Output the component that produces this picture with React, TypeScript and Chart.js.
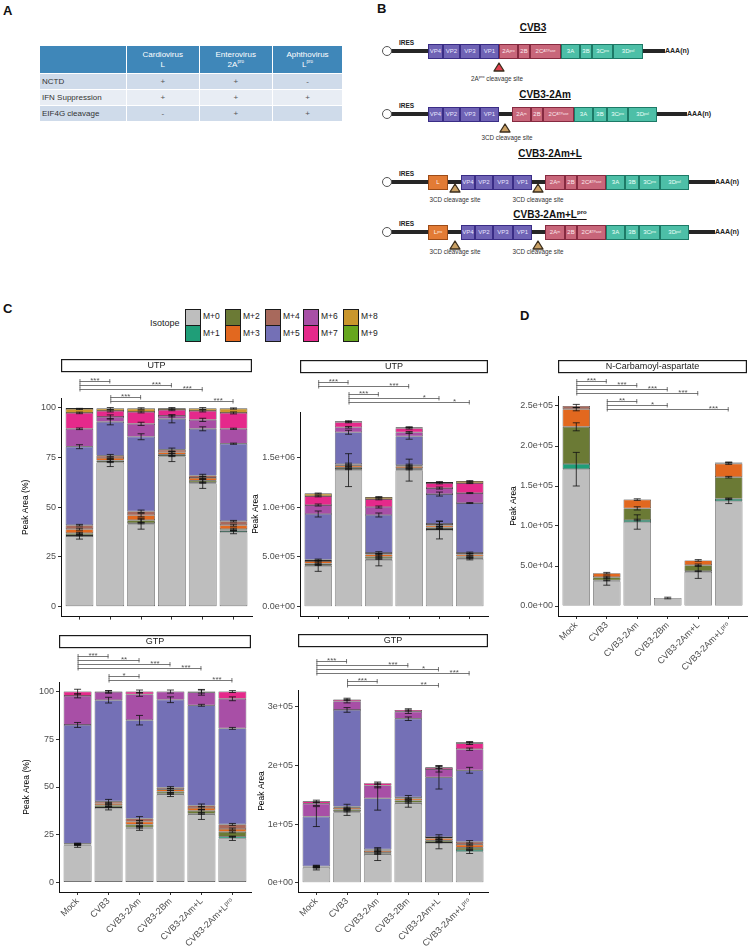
import React, { useEffect, useRef } from "react";
import { Chart, registerables } from "chart.js";

Chart.register(...registerables);

const SANS = "'Liberation Sans', Arial, Helvetica, sans-serif";

// ---------------- data ----------------
const categories = ["Mock", "CVB3", "CVB3-2Am", "CVB3-2Bm", "CVB3-2Am+L", "CVB3-2Am+Lᵖʳᵒ"];
const isotopes = ["M+0", "M+1", "M+2", "M+3", "M+4", "M+5", "M+6", "M+7", "M+8", "M+9"];
const isotopeColors = ["#bebebe", "#1f9e78", "#6b7a35", "#e2681f", "#a8695c", "#7470b6", "#a84fa6", "#e5298b", "#c9962c", "#66a61e"];

// UTP, percent of peak area (rows = M+0..M+9, columns = categories)
const utpPct = [
  [35.5, 72.5, 41.5, 75.5, 62, 37.5],
  [0.5, 0.3, 0.5, 0.3, 0.4, 0.8],
  [1.0, 0.7, 1.5, 0.7, 1.0, 0.7],
  [2.0, 1.3, 2.5, 1.2, 1.4, 2.0],
  [2.0, 1.2, 2.0, 1.3, 1.2, 2.0],
  [39.5, 17, 37.5, 15.5, 23.5, 39],
  [9, 2.5, 6.5, 1.5, 4.5, 7.5],
  [8, 3, 6, 3, 4.5, 8],
  [2, 1.2, 1.7, 0.8, 1.2, 2.2],
  [0.5, 0.3, 0.3, 0.2, 0.3, 0.3],
];
const utpPctErr = [
  [1.5, 2, 2.5, 2.5, 2.5, 0.8],
  [0.3, 0.3, 0.3, 0.3, 0.3, 0.3],
  [0.5, 0.5, 1, 0.5, 0.8, 0.5],
  [0.5, 0.5, 0.8, 0.5, 0.8, 0.5],
  [0.4, 0.6, 0.6, 0.8, 0.6, 0.4],
  [1, 1.5, 1.5, 2, 1, 0.3],
  [0.4, 1, 0.8, 0.5, 0.8, 0.3],
  [0.4, 0.5, 0.5, 0.4, 0.5, 0.5],
  [0.3, 0.5, 0.4, 0.4, 0.5, 0.3],
  [0, 0, 0, 0, 0, 0],
];

// UTP, peak area
const utpArea = [
  [410000, 1370000, 470000, 1370000, 770000, 480000],
  [8000, 10000, 10000, 8000, 10000, 10000],
  [15000, 15000, 20000, 12000, 15000, 15000],
  [25000, 20000, 25000, 20000, 20000, 20000],
  [12000, 15000, 15000, 10000, 15000, 15000],
  [460000, 320000, 380000, 290000, 300000, 500000],
  [90000, 50000, 80000, 40000, 60000, 100000],
  [90000, 50000, 80000, 40000, 50000, 100000],
  [25000, 10000, 20000, 10000, 10000, 20000],
  [5000, 0, 0, 0, 0, 0],
];
const utpAreaErr = [
  [55000, 165000, 60000, 110000, 90000, 10000],
  [5000, 5000, 5000, 5000, 5000, 5000],
  [5000, 5000, 5000, 5000, 5000, 5000],
  [8000, 8000, 8000, 8000, 8000, 8000],
  [8000, 10000, 12000, 10000, 25000, 8000],
  [30000, 20000, 20000, 30000, 20000, 5000],
  [10000, 8000, 10000, 8000, 10000, 5000],
  [8000, 5000, 8000, 8000, 8000, 5000],
  [5000, 5000, 5000, 5000, 5000, 5000],
  [0, 0, 0, 0, 0, 0],
];

// GTP, percent of peak area
const gtpPct = [
  [19.4, 39, 28.3, 46, 35.5, 23],
  [0.2, 0.5, 0.5, 0.4, 0.5, 1],
  [0.2, 1, 1.5, 1.2, 1.5, 2.5],
  [0.2, 1, 1.5, 1.2, 1.5, 1.5],
  [0.3, 1, 1.7, 0.9, 1.3, 2.4],
  [62.2, 53, 51.5, 46, 52.5, 50.3],
  [15.2, 4.3, 13.5, 4.3, 6.8, 15.5],
  [2.3, 0.2, 1.5, 0, 0.4, 3.8],
  [0, 0, 0, 0, 0, 0],
  [0, 0, 0, 0, 0, 0],
];
const gtpPctErr = [
  [1, 1, 1, 1, 2.5, 1],
  [0.2, 0.3, 0.3, 0.3, 0.3, 0.3],
  [0.2, 0.5, 0.5, 0.5, 0.8, 0.5],
  [0.2, 0.5, 0.5, 0.5, 0.8, 0.5],
  [0.3, 1, 1, 0.5, 0.8, 0.5],
  [1.3, 1.5, 2.5, 1.5, 0.5, 0.5],
  [1, 0.7, 1, 0.8, 1.5, 1],
  [1.2, 0.4, 0.8, 0, 0.8, 0.5],
  [0, 0, 0, 0, 0, 0],
  [0, 0, 0, 0, 0, 0],
];

// GTP, peak area
const gtpArea = [
  [26000, 120000, 48000, 135000, 68000, 53000],
  [300, 2000, 1500, 2000, 1500, 3000],
  [500, 3000, 2500, 3500, 3000, 4000],
  [500, 3000, 3000, 3500, 3500, 5000],
  [700, 2000, 2000, 2000, 2000, 5000],
  [85000, 165000, 87000, 134000, 102000, 122000],
  [22000, 15000, 22000, 12000, 14000, 36000],
  [4000, 3000, 4000, 3000, 3000, 10000],
  [0, 0, 0, 0, 0, 2000],
  [0, 0, 0, 0, 0, 0],
];
const gtpAreaErr = [
  [4000, 5000, 10000, 6000, 10000, 3000],
  [1000, 1000, 1000, 1000, 1000, 1000],
  [1000, 1000, 1000, 1000, 1000, 1000],
  [1000, 1000, 1000, 1000, 1000, 1000],
  [1500, 4000, 3000, 3000, 4000, 2000],
  [17000, 4000, 20000, 3000, 20000, 5000],
  [3000, 3000, 4000, 3000, 5000, 2000],
  [2000, 2000, 2000, 2000, 2000, 2000],
  [0, 0, 0, 0, 0, 1000],
  [0, 0, 0, 0, 0, 0],
];

// N-Carbamoyl-aspartate, peak area
const ncaArea = [
  [171000, 31000, 105000, 10000, 42500, 131000],
  [6500, 1000, 2500, 0, 1000, 3000],
  [46500, 4000, 14500, 0, 7500, 27000],
  [22000, 5000, 11000, 0, 6000, 17000],
  [4000, 0, 0, 0, 0, 1500],
  [0, 0, 0, 0, 0, 0],
  [0, 0, 0, 0, 0, 0],
  [0, 0, 0, 0, 0, 0],
  [0, 0, 0, 0, 0, 0],
  [0, 0, 0, 0, 0, 0],
];
const ncaAreaErr = [
  [21000, 5000, 9000, 1000, 8000, 3000],
  [0, 500, 1000, 0, 500, 1000],
  [5000, 1500, 2000, 0, 1500, 1000],
  [2000, 1000, 1000, 0, 1000, 1000],
  [2000, 0, 0, 0, 0, 500],
  [0, 0, 0, 0, 0, 0],
  [0, 0, 0, 0, 0, 0],
  [0, 0, 0, 0, 0, 0],
  [0, 0, 0, 0, 0, 0],
  [0, 0, 0, 0, 0, 0],
];

// significance comparisons: [from category, to category, label]
const utpPctSig = [[0, 1, "***"], [0, 3, "***"], [0, 4, "***"], [1, 2, "***"], [1, 5, "***"]];
const utpAreaSig = [[0, 1, "***"], [0, 3, "***"], [1, 2, "***"], [1, 4, "*"], [1, 5, "*"]];
const ncaSig = [[0, 1, "***"], [0, 2, "***"], [0, 3, "***"], [0, 4, "***"], [1, 2, "**"], [1, 3, "*"], [1, 5, "***"]];
const gtpPctSig = [[0, 1, "***"], [0, 2, "**"], [0, 3, "***"], [0, 4, "***"], [1, 2, "*"], [1, 5, "***"]];
const gtpAreaSig = [[0, 1, "***"], [0, 3, "***"], [0, 4, "*"], [0, 5, "***"], [1, 2, "***"], [1, 4, "**"]];

// tick values / labels
const pctTicks = [0, 25, 50, 75, 100];
const pctTickLabels = ["0", "25", "50", "75", "100"];
const utpAreaTicks = [0, 500000, 1000000, 1500000];
const utpAreaTickLabels = ["0.0e+00", "5.0e+05", "1.0e+06", "1.5e+06"];
const gtpAreaTicks = [0, 100000, 200000, 300000];
const gtpAreaTickLabels = ["0e+00", "1e+05", "2e+05", "3e+05"];
const ncaTicks = [0, 50000, 100000, 150000, 200000, 250000];
const ncaTickLabels = ["0.0e+00", "5.0e+04", "1.0e+05", "1.5e+05", "2.0e+05", "2.5e+05"];

// table (panel A)
const tableHeaders = [["Cardiovirus", "L", ""], ["Enterovirus", "2A", "pro"], ["Aphthovirus", "L", "pro"]];
const tableRowLabels = ["NCTD", "IFN Suppression", "EIF4G cleavage"];
const tableValues = [["+", "+", "-"], ["+", "+", "+"], ["-", "+", "+"]];

// ---------------- panel layout ----------------
const panels: any[] = [
  {
    values: utpPct, errors: utpPctErr, sig: utpPctSig, strip: "UTP", yTitle: "Peak Area (%)",
    yMin: -5, yMax: 105, ticks: pctTicks, tickLabels: pctTickLabels, showX: false,
    box: { left: 0, top: 354, width: 262, height: 270 }, area: { left: 61, right: 252, top: 398, bottom: 618 },
    stripY: 359, bracketY: 381, titleX: 26,
  },
  {
    values: utpArea, errors: utpAreaErr, sig: utpAreaSig, strip: "UTP", yTitle: "Peak Area",
    yMin: -93000, yMax: 1953000, ticks: utpAreaTicks, tickLabels: utpAreaTickLabels, showX: false,
    box: { left: 248, top: 354, width: 250, height: 270 }, area: { left: 300, right: 488, top: 412, bottom: 616 },
    stripY: 360, bracketY: 382, titleX: 256,
  },
  {
    values: ncaArea, errors: ncaAreaErr, sig: ncaSig, strip: "N-Carbamoyl-aspartate", yTitle: "Peak Area",
    yMin: -12500, yMax: 262500, ticks: ncaTicks, tickLabels: ncaTickLabels, showX: true,
    box: { left: 505, top: 354, width: 245, height: 336 }, area: { left: 558, right: 747, top: 396, bottom: 616 },
    stripY: 360, bracketY: 381, titleX: 514,
  },
  {
    values: gtpPct, errors: gtpPctErr, sig: gtpPctSig, strip: "GTP", yTitle: "Peak Area (%)",
    yMin: -5, yMax: 105, ticks: pctTicks, tickLabels: pctTickLabels, showX: true,
    box: { left: 0, top: 630, width: 262, height: 320 }, area: { left: 59, right: 251, top: 682, bottom: 892 },
    stripY: 635, bracketY: 656, titleX: 27,
  },
  {
    values: gtpArea, errors: gtpAreaErr, sig: gtpAreaSig, strip: "GTP", yTitle: "Peak Area",
    yMin: -15700, yMax: 329000, ticks: gtpAreaTicks, tickLabels: gtpAreaTickLabels, showX: true,
    box: { left: 248, top: 630, width: 250, height: 320 }, area: { left: 298, right: 488, top: 690, bottom: 892 },
    stripY: 634, bracketY: 661, titleX: 262,
  },
];

function makeDecor(p: any) {
  const ox = p.box.left;
  const oy = p.box.top;
  return {
    id: "decor",
    afterDatasetsDraw(chart: any) {
      const ctx = chart.ctx;
      const xs = chart.scales.x;
      const ys = chart.scales.y;
      const cum = categories.map(() => 0);
      ctx.save();
      ctx.strokeStyle = "#111";
      ctx.lineWidth = 0.8;
      p.values.forEach((row: number[], k: number) => {
        row.forEach((v: number, i: number) => {
          cum[i] += v;
          const e = p.errors[k][i];
          if (!v || !e) return;
          const x = xs.getPixelForValue(i + 1);
          const yT = ys.getPixelForValue(cum[i] + e);
          const yB = ys.getPixelForValue(cum[i] - e);
          ctx.beginPath();
          ctx.moveTo(x, yT);
          ctx.lineTo(x, yB);
          ctx.moveTo(x - 3.5, yT);
          ctx.lineTo(x + 3.5, yT);
          ctx.moveTo(x - 3.5, yB);
          ctx.lineTo(x + 3.5, yB);
          ctx.stroke();
        });
      });
      ctx.restore();
    },
    afterDraw(chart: any) {
      const ctx = chart.ctx;
      const a = chart.chartArea;
      const xs = chart.scales.x;
      ctx.save();
      // facet strip
      const sy = p.stripY - oy;
      ctx.fillStyle = "#fff";
      ctx.fillRect(a.left, sy, a.right - a.left, 13);
      ctx.strokeStyle = "#1a1a1a";
      ctx.lineWidth = 1.2;
      ctx.strokeRect(a.left + 0.6, sy + 0.6, a.right - a.left - 1.2, 12);
      ctx.fillStyle = "#1a1a1a";
      ctx.font = `9px ${SANS}`;
      ctx.textAlign = "center";
      ctx.textBaseline = "middle";
      ctx.fillText(p.strip, (a.left + a.right) / 2, sy + 7);
      // significance brackets
      let y = p.bracketY - oy;
      let prev: any = null;
      p.sig.forEach((s: any[], idx: number) => {
        const [from, to, label] = s;
        if (idx > 0) y += from !== prev ? 8 : 4;
        prev = from;
        const x1 = xs.getPixelForValue(from + 1);
        const x2 = xs.getPixelForValue(to + 1);
        ctx.strokeStyle = "#555";
        ctx.lineWidth = 0.8;
        ctx.beginPath();
        ctx.moveTo(x1, y + 0.5);
        ctx.lineTo(x2, y + 0.5);
        ctx.moveTo(x1 + 0.5, y - 2);
        ctx.lineTo(x1 + 0.5, y + 2.5);
        ctx.moveTo(x2 - 0.5, y - 2);
        ctx.lineTo(x2 - 0.5, y + 2.5);
        ctx.stroke();
        ctx.fillStyle = "#555";
        ctx.font = `8px ${SANS}`;
        ctx.textAlign = "center";
        ctx.textBaseline = "alphabetic";
        ctx.fillText(label, xs.getPixelForValue(to + 0.5), y + 2);
      });
      // y-axis title
      ctx.translate(p.titleX - ox, (a.top + a.bottom) / 2);
      ctx.rotate(-Math.PI / 2);
      ctx.fillStyle = "#000";
      ctx.font = `8.5px ${SANS}`;
      ctx.textAlign = "center";
      ctx.textBaseline = "middle";
      ctx.fillText(p.yTitle, 0, 0);
      ctx.restore();
    },
  };
}

function buildConfig(p: any) {
  const { box, area } = p;
  const padTop = area.top - box.top;
  const padRight = box.left + box.width - area.right;
  const yW = area.left - box.left;
  const xH = box.top + box.height - area.bottom;
  const datasets = isotopes.map((iso, k) => ({
    label: iso,
    data: p.values[k].map((v: number, i: number) => ({ x: i + 1, y: v === 0 ? null : v })),
    backgroundColor: isotopeColors[k],
    borderColor: "#2a2a2a",
    borderWidth: 0.6,
    borderSkipped: false,
    barPercentage: 0.9,
    categoryPercentage: 1,
  }));
  const grid = { drawOnChartArea: false, drawTicks: true, tickLength: 3, color: "#333", lineWidth: 1, offset: false };
  const border = { display: true, color: "#111", width: 1 };
  const tickFont = { family: SANS, size: 9 };
  return {
    type: "bar",
    data: { datasets },
    options: {
      responsive: false,
      animation: false,
      events: [],
      layout: { padding: { top: padTop, right: padRight, bottom: 0, left: 0 } },
      plugins: { legend: { display: false }, tooltip: { enabled: false } },
      scales: {
        x: {
          type: "linear",
          stacked: true,
          min: 0.4,
          max: 6.6,
          bounds: "data",
          offset: false,
          grid,
          border,
          afterBuildTicks: (s: any) => {
            s.ticks = categories.map((_, i) => ({ value: i + 1 }));
          },
          afterFit: (s: any) => {
            s.height = xH;
          },
          ticks: {
            display: p.showX,
            autoSkip: false,
            minRotation: 45,
            maxRotation: 45,
            padding: 1,
            color: "#4d4d4d",
            font: tickFont,
            callback: (v: number) => categories[Math.round(v) - 1] ?? "",
          },
        },
        y: {
          type: "linear",
          stacked: true,
          min: p.yMin,
          max: p.yMax,
          bounds: "data",
          grid,
          border,
          afterBuildTicks: (s: any) => {
            s.ticks = p.ticks.map((v: number) => ({ value: v }));
          },
          afterFit: (s: any) => {
            s.width = yW;
          },
          ticks: {
            padding: 2,
            color: "#4d4d4d",
            font: tickFont,
            callback: (v: number) => {
              const i = p.ticks.indexOf(v);
              return i >= 0 ? p.tickLabels[i] : "";
            },
          },
        },
      },
    },
    plugins: [makeDecor(p)],
  };
}

function StackedPanel({ p }: { p: any }) {
  const ref = useRef<HTMLCanvasElement | null>(null);
  useEffect(() => {
    if (!ref.current) return;
    const chart = new Chart(ref.current, buildConfig(p) as any);
    return () => chart.destroy();
  }, [p]);
  const { box } = p;
  return (
    <canvas
      ref={ref}
      width={box.width}
      height={box.height}
      style={{ position: "absolute", left: box.left, top: box.top, width: box.width, height: box.height }}
    />
  );
}

// ---------------- panel A: table ----------------
function PanelA() {
  const colW = [87, 73, 73, 69];
  const colX = [40, 127, 200, 273];
  const rowTop = [74, 90, 106];
  const cell = (extra: any) => ({
    position: "absolute" as const,
    boxSizing: "border-box" as const,
    display: "flex",
    alignItems: "center",
    ...extra,
  });
  return (
    <>
      {colX.map((x, c) => (
        <div
          key={"h" + c}
          style={cell({
            left: x,
            top: 46,
            width: colW[c] - (c < 3 ? 1.5 : 0),
            height: 27,
            background: "#3f87b9",
            color: "#fff",
            justifyContent: "center",
            flexDirection: "column",
            fontSize: 8,
            lineHeight: "10px",
            fontFamily: SANS,
          })}
        >
          {c > 0 && (
            <>
              <span>{tableHeaders[c - 1][0]}</span>
              <span>
                {tableHeaders[c - 1][1]}
                {tableHeaders[c - 1][2] && <sup style={{ fontSize: 4.5, lineHeight: 0 }}>{tableHeaders[c - 1][2]}</sup>}
              </span>
            </>
          )}
        </div>
      ))}
      {tableRowLabels.map((label, r) => (
        <React.Fragment key={"r" + r}>
          <div
            style={cell({
              left: colX[0],
              top: rowTop[r],
              width: colW[0] - 1.5,
              height: 15,
              background: r === 1 ? "#e8edf4" : "#cfdbea",
              color: "#333",
              fontSize: 8,
              paddingLeft: 2,
              fontFamily: SANS,
            })}
          >
            {label}
          </div>
          {tableValues[r].map((v, c) => (
            <div
              key={c}
              style={cell({
                left: colX[c + 1],
                top: rowTop[r],
                width: colW[c + 1] - (c < 2 ? 1.5 : 0),
                height: 15,
                background: r === 1 ? "#e8edf4" : "#cfdbea",
                color: "#555",
                fontSize: 8,
                justifyContent: "center",
                fontFamily: SANS,
              })}
            >
              {v}
            </div>
          ))}
        </React.Fragment>
      ))}
    </>
  );
}

// ---------------- panel B: genome diagram ----------------
const segStyle: any = {
  vp: { bg: "#6f63b5", bd: "#3a2d86", fg: "#e8e5ff" },
  p2: { bg: "#c8667a", bd: "#862a40", fg: "#fbe8ec" },
  p3: { bg: "#4dbfa7", bd: "#1d7a67", fg: "#effffa" },
  L: { bg: "#e27b35", bd: "#9c4b17", fg: "#fff3e8" },
};

const vpA = [["VP4", "", 428, 443, "vp"], ["VP2", "", 443, 460, "vp"], ["VP3", "", 460, 480, "vp"], ["VP1", "", 480, 499, "vp"]];
const vpB = [["VP4", "", 461, 475, "vp"], ["VP2", "", 475, 493, "vp"], ["VP3", "", 493, 513, "vp"], ["VP1", "", 513, 532, "vp"]];
const rest3 = [
  ["2A", "m", 545, 565, "p2"], ["2B", "", 565, 577, "p2"], ["2C", "ATPase", 577, 606, "p2"],
  ["3A", "", 606, 625, "p3"], ["3B", "", 625, 639, "p3"], ["3C", "pro", 639, 660, "p3"], ["3D", "pol", 660, 689, "p3"],
];
const constructs: any[] = [
  {
    title: "CVB3", tsup: "", tx: 533, ty: 28, lineY: 51, lineEnd: 665,
    segs: [
      ...vpA,
      ["2A", "pro", 499, 518, "p2"], ["2B", "", 518, 530, "p2"], ["2C", "ATPase", 530, 561, "p2"],
      ["3A", "", 561, 580, "p3"], ["3B", "", 580, 592, "p3"], ["3C", "pro", 592, 613, "p3"], ["3D", "pol", 613, 643, "p3"],
    ],
    tris: [499], triFill: "#e0404f", triTop: 62, labelY: 79, labelX: [497], red: true,
  },
  {
    title: "CVB3-2Am", tsup: "", tx: 545, ty: 95, lineY: 114, lineEnd: 687,
    segs: [
      ...vpA,
      ["2A", "m", 512, 531, "p2"], ["2B", "", 531, 543, "p2"], ["2C", "ATPase", 543, 574, "p2"],
      ["3A", "", 574, 593, "p3"], ["3B", "", 593, 607, "p3"], ["3C", "pro", 607, 628, "p3"], ["3D", "pol", 628, 657, "p3"],
    ],
    tris: [505], triFill: "#c9a064", triTop: 123, labelY: 138, labelX: [507],
  },
  {
    title: "CVB3-2Am+L", tsup: "", tx: 550, ty: 154, lineY: 182, lineEnd: 715,
    segs: [["L", "", 428, 448, "L"], ...vpB, ...rest3],
    tris: [455, 538], triFill: "#c9a064", triTop: 183, labelY: 200, labelX: [455, 538],
  },
  {
    title: "CVB3-2Am+L", tsup: "pro", tx: 550, ty: 215, lineY: 232, lineEnd: 715,
    segs: [["L", "pro", 428, 448, "L"], ...vpB, ...rest3],
    tris: [455, 538], triFill: "#c9a064", triTop: 240, labelY: 252, labelX: [455, 538],
  },
];

function PanelB() {
  return (
    <>
      {constructs.map((c, ci) => (
        <React.Fragment key={ci}>
          <div
            style={{
              position: "absolute", left: c.tx - 60, width: 120, top: c.ty - 7, textAlign: "center",
              fontFamily: SANS, fontWeight: "bold", fontSize: 10, lineHeight: "13px", color: "#111",
              textDecoration: "underline",
            }}
          >
            {c.title}
            {c.tsup && <sup style={{ fontSize: 6, lineHeight: 0 }}>{c.tsup}</sup>}
          </div>
          <div style={{ position: "absolute", left: 391, top: c.lineY - 1.75, width: c.lineEnd - 391, height: 3.5, background: "#262626" }} />
          <div
            style={{
              position: "absolute", left: 382, top: c.lineY - 5, width: 10, height: 10, borderRadius: "50%",
              border: "1.6px solid #555", background: "#fff", boxSizing: "border-box",
            }}
          />
          <div style={{ position: "absolute", left: 399, top: c.lineY - 12, fontFamily: SANS, fontWeight: "bold", fontSize: 6.5, color: "#222" }}>IRES</div>
          <div style={{ position: "absolute", left: c.lineEnd, top: c.lineY - 5, fontFamily: SANS, fontWeight: "bold", fontSize: 7, lineHeight: "10px", color: "#222" }}>AAA(n)</div>
          {c.segs.map((s: any[], si: number) => {
            const st = segStyle[s[4]];
            return (
              <div
                key={si}
                style={{
                  position: "absolute", left: s[2], top: c.lineY - 7.5, width: s[3] - s[2], height: 15,
                  background: st.bg, border: `1px solid ${st.bd}`, boxSizing: "border-box", color: st.fg,
                  fontFamily: SANS, fontSize: 6, display: "flex", alignItems: "center", justifyContent: "center",
                  whiteSpace: "nowrap", overflow: "hidden",
                }}
              >
                {s[0]}
                {s[1] && <sup style={{ fontSize: 3.5, lineHeight: 0 }}>{s[1]}</sup>}
              </div>
            );
          })}
          {c.tris.map((x: number, ti: number) => (
            <svg key={"t" + ti} width={12} height={10} style={{ position: "absolute", left: x - 6, top: c.triTop }}>
              <polygon points="6,1 11,9 1,9" fill={c.triFill} stroke="#3a2d1c" strokeWidth={1.3} strokeLinejoin="round" />
            </svg>
          ))}
          {c.labelX.map((x: number, li: number) => (
            <div
              key={"l" + li}
              style={{
                position: "absolute", left: x - 40, width: 80, top: c.labelY - 5, textAlign: "center",
                fontFamily: SANS, fontSize: 6.3, lineHeight: "10px", color: "#333",
              }}
            >
              {c.red ? (
                <>
                  2A<sup style={{ fontSize: 4, lineHeight: 0 }}>pro</sup> cleavage site
                </>
              ) : (
                "3CD cleavage site"
              )}
            </div>
          ))}
        </React.Fragment>
      ))}
    </>
  );
}

// ---------------- legend ----------------
function Legend() {
  const colX = [185, 225, 265, 303, 343];
  return (
    <>
      <div style={{ position: "absolute", left: 150, top: 318, fontFamily: SANS, fontSize: 9, color: "#1a1a1a" }}>Isotope</div>
      {colX.map((x, c) =>
        [0, 1].map((r) => {
          const k = c * 2 + r;
          return (
            <React.Fragment key={k}>
              <div
                style={{
                  position: "absolute", left: x, top: 309 + r * 16, width: 16, height: 17,
                  background: isotopeColors[k], border: "1.2px solid #1a1a1a", boxSizing: "border-box",
                }}
              />
              <div style={{ position: "absolute", left: x + 18, top: 311 + r * 17, fontFamily: SANS, fontSize: 8.5, color: "#1a1a1a" }}>
                {isotopes[k]}
              </div>
            </React.Fragment>
          );
        })
      )}
    </>
  );
}

const letterStyle: any = { position: "absolute", fontFamily: SANS, fontWeight: "bold", fontSize: 13, color: "#111" };

export default function App() {
  return (
    <div style={{ position: "absolute", left: 0, top: 0, width: 750, height: 950, background: "#fff", overflow: "hidden" }}>
      <div style={{ ...letterStyle, left: 3, top: 3 }}>A</div>
      <div style={{ ...letterStyle, left: 377, top: 1 }}>B</div>
      <div style={{ ...letterStyle, left: 3, top: 301 }}>C</div>
      <div style={{ ...letterStyle, left: 520, top: 308 }}>D</div>
      <PanelA />
      <PanelB />
      <Legend />
      {panels.map((p, i) => (
        <StackedPanel key={i} p={p} />
      ))}
    </div>
  );
}
